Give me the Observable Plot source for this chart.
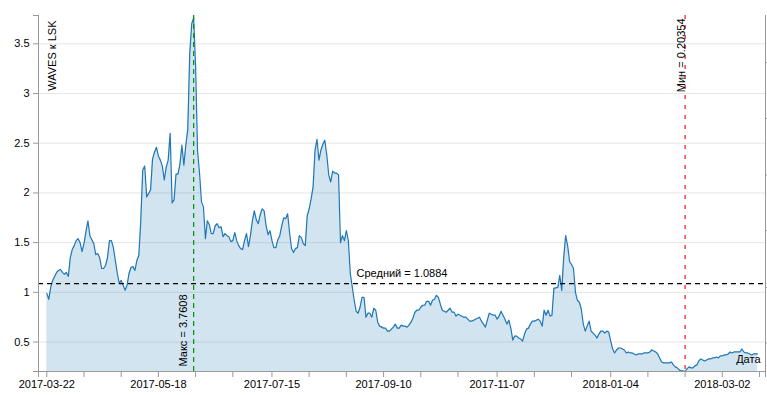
<!DOCTYPE html>
<html>
<head>
<meta charset="utf-8">
<script src="https://cdn.jsdelivr.net/npm/d3@7"></script>
<script src="https://cdn.jsdelivr.net/npm/@observablehq/plot@0.6"></script>
<style>
  html, body { margin: 0; padding: 0; background: #fff; }
</style>
</head>
<body>
<div id="chart"></div>
<script>
// Daily WAVES/LSK values, in consecutive-day runs
const startA = "2017-03-22";
const valuesA = [
  0.99,0.93,1.05,1.12,1.16,1.20,1.22,1.23,1.20,1.18,
  1.20,1.16,1.35,1.43,1.47,1.52,1.54,1.50,1.41,1.49,
  1.61,1.72,1.57,1.53,1.49,1.38,1.39,1.35,1.24,1.24,
  1.27,1.35,1.52,1.52,1.45,1.32,1.19,1.09,1.12,1.07,
  1.02,1.07,1.19,1.25,1.26,1.22,1.32,1.37,1.72,2.23,
  2.27,1.96
];
const startB = "2017-05-14";
const valuesB = [
  2.03,2.34,2.41,2.46,2.37,2.33,2.27,2.13,
  2.26,2.33,2.60,1.90,1.93,2.19,2.19,2.29,2.48,2.28,
  2.48,2.64,3.40,3.70,3.7608,3.27,2.42,2.20,1.91,1.86,
  1.54,1.72,1.68,1.59,1.59,1.67,1.69,1.65,1.66,1.56,
  1.59,1.57,1.56,1.51,1.52,1.60,1.52,1.47,1.44,1.43,
  1.52,1.59,1.46,1.57,1.72,1.82,1.73,1.69,1.78,1.84,
  1.82,1.67,1.58,1.62,1.52,1.45,1.45,1.53,1.57,1.67,
  1.75,1.74,1.79,1.60,1.44,1.40,1.44,1.45,1.57,1.55,
  1.49,1.47,1.77,1.84,1.94,2.06,2.43,2.54,2.33,2.43,
  2.49,2.53,2.38,2.18,2.11,2.22,2.20,2.20,2.18,1.50,
  1.57,1.52,1.62,1.52,1.19
];
const startC = "2017-08-26";
const valuesC = [
  0.92,0.81,0.79,0.85,0.95,
  0.95,0.75,0.79,0.79,0.75,0.84,0.82,0.70,0.66,0.65,
  0.64,0.64,0.61,0.61,0.63,0.65,0.68,0.64,0.64,0.67,
  0.66,0.66,0.65,0.67,0.70,0.74,0.80,0.82,0.82,0.85,
  0.87,0.87,0.91,0.91,0.87,0.92,0.93,0.97,0.95,0.88,
  0.82,0.81,0.80,0.82,0.84,0.80,0.80,0.76,0.78,0.77,
  0.76,0.75,0.75,0.73,0.71,0.71,0.72,0.73,0.74,0.75,
  0.71,0.68,0.65,0.72,0.79,0.78,0.77,0.77,0.73,0.76,
  0.81,0.77,0.73,0.68,0.72,0.64,0.52,0.56,0.56,0.54,
  0.53,0.51,0.58,0.63,0.64,0.68,0.71,0.71,0.72,0.73,
  0.71,0.66,0.82,0.77,0.82,0.76,0.77,1.04
];
const startD = "2017-12-08";
const valuesD = [
  1.05,1.17,
  1.02,1.35,1.57,1.47,1.31,1.28,1.24,1.00,0.92,0.90,
  0.83,0.68,0.61,0.66,0.71,0.61,0.59,0.57,0.54,0.58,
  0.61,0.61,0.59,0.61,0.60,0.51,0.43,0.39,0.42,0.44,
  0.44,0.43,0.42,0.39,0.40,0.39,0.39,0.38,0.37,0.38,
  0.38,0.38,0.39,0.39,0.39,0.40,0.42,0.41,0.40,0.38,
  0.34,0.30,0.29,0.29,0.29,0.29,0.30,0.27,0.25,0.24,
  0.22,0.21,0.21,0.20354,0.23,0.25,0.24,0.24,0.26,0.27,
  0.31,0.33,0.32,0.31,0.32,0.33,0.33,0.34,0.34,0.35,
  0.34,0.36,0.36,0.37,0.37,0.38,0.40,0.39,0.40,0.40,
  0.40,0.40,0.43,0.40,0.39,0.39,0.38,0.37,0.38,0.38,
  0.38
];

const yTitle = "WAVES к LSK";
const xTitle = "Дата";
const meanValue = 1.0884;
const meanLabel = "Средний = 1.0884";
const maxLabel = "Макс = 3.7608";
const minLabel = "Мин = 0.20354";

const yTicks = [0.5, 1, 1.5, 2, 2.5, 3, 3.5];
const rightTicks = [0.49, 1.05, 1.62, 2.18, 2.75, 3.31];
const xLabelDates = ["2017-03-22","2017-05-18","2017-07-15","2017-09-10","2017-11-07","2018-01-04","2018-03-02"];
const xMinorDates = ["2017-04-10","2017-04-29","2017-06-06","2017-06-25","2017-08-03","2017-08-22",
                     "2017-09-29","2017-10-18","2017-11-26","2017-12-15","2018-01-23","2018-02-11","2018-03-21"];

const xDomain = [new Date("2017-03-17T18:15:00Z"), new Date("2018-03-24T01:30:00Z")];
const yDomain = [0.20354, 3.785];

function run(start, vals) {
  const s = new Date(start + "T00:00:00Z");
  return vals.map((v, i) => ({date: d3.utcDay.offset(s, i), value: v}));
}
const data = [
  ...run(startA, valuesA), ...run(startB, valuesB),
  ...run(startC, valuesC), ...run(startD, valuesD)
];
const maxPoint = data.reduce((a, b) => (b.value > a.value ? b : a));
const minPoint = data.reduce((a, b) => (b.value < a.value ? b : a));

const fmtDate = d3.utcFormat("%Y-%m-%d");
const labelSet = new Set(xLabelDates);
const xTickValues = [xDomain[0], ...[...xLabelDates, ...xMinorDates].map(s => new Date(s + "T00:00:00Z")), xDomain[1]];
const yTickValues = [yDomain[0], ...yTicks, yDomain[1]];

const axisColor = "#999";
const font = "'Liberation Sans', Arial, sans-serif";

const chart = Plot.plot({
  width: 767,
  height: 395,
  marginLeft: 38,
  marginRight: 2,
  marginTop: 15,
  marginBottom: 24,
  style: {fontFamily: font, fontSize: "11px", color: "#000", background: "#fff", overflow: "visible"},
  x: {type: "utc", domain: xDomain},
  y: {domain: yDomain},
  marks: [
    Plot.gridY(yTicks, {stroke: "#e6e6e6", strokeOpacity: 1}),
    Plot.areaY(data, {x: "date", y1: yDomain[0], y2: "value", fill: "#1f77b4", fillOpacity: 0.2}),
    Plot.lineY(data, {x: "date", y: "value", stroke: "#1f77b4", strokeWidth: 1.2}),
    Plot.ruleY([meanValue], {stroke: "#000", strokeDasharray: "5,4", strokeWidth: 1.2}),
    Plot.ruleX([maxPoint], {x: "date", stroke: "#009000", strokeDasharray: "5,4", strokeWidth: 1.2}),
    Plot.ruleX([minPoint], {x: "date", stroke: "#ee0000", strokeDasharray: "4,6", strokeWidth: 1.1}),
    // axis lines
    Plot.ruleX([xDomain[0]], {stroke: axisColor}),
    Plot.ruleX([xDomain[1]], {stroke: axisColor}),
    Plot.ruleY([yDomain[0]], {stroke: axisColor}),
    Plot.axisY(yTickValues, {anchor: "left", tickSize: 5, tickPadding: 4, stroke: axisColor, fill: "#000",
      label: null, tickFormat: d => (yTicks.includes(d) ? String(d) : "")}),
    Plot.axisY(rightTicks, {anchor: "right", tickSize: 4, stroke: axisColor, label: null, tickFormat: () => ""}),
    Plot.axisX(xTickValues, {anchor: "bottom", tickSize: 6, tickPadding: 3, stroke: axisColor, fill: "#000",
      label: null, tickFormat: d => (labelSet.has(fmtDate(d)) && d.getUTCHours() === 0 && d.getUTCMinutes() === 0 ? fmtDate(d) : "")}),
    // annotations
    Plot.text([meanLabel], {y: () => meanValue, frameAnchor: "middle", dy: -10, text: d => d, fill: "#000"}),
    Plot.text([maxPoint], {x: "date", frameAnchor: "bottom", rotate: -90, textAnchor: "start", dx: -7, dy: -5, text: () => maxLabel, fill: "#000"}),
    Plot.text([minPoint], {x: "date", frameAnchor: "top", rotate: -90, textAnchor: "end", dx: -7.5, dy: 3, text: () => minLabel, fill: "#000"}),
    Plot.text([yTitle], {frameAnchor: "top-left", rotate: -90, textAnchor: "end", dx: 10, dy: 5, text: d => d, fill: "#000"}),
    Plot.text([xTitle], {frameAnchor: "bottom-right", textAnchor: "end", dx: -5, dy: -9, text: d => d, fill: "#000"})
  ]
});
document.getElementById("chart").appendChild(chart);
</script>
</body>
</html>
